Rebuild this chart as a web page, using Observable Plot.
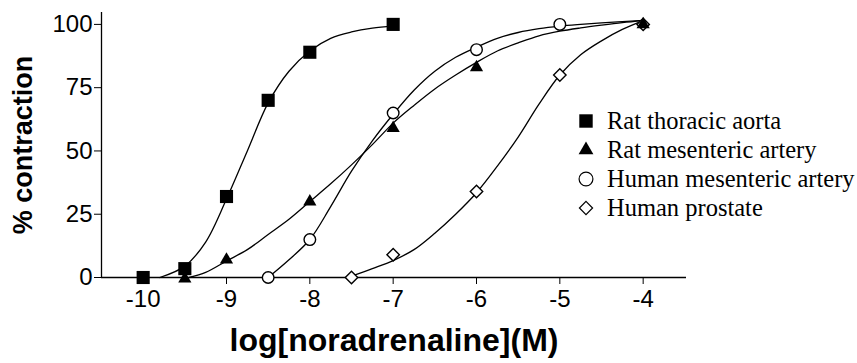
<!DOCTYPE html>
<html>
<head>
<meta charset="utf-8">
<script src="https://cdn.jsdelivr.net/npm/d3@7"></script>
<script src="https://cdn.jsdelivr.net/npm/@observablehq/plot@0.6"></script>
<style>
  html, body { margin: 0; padding: 0; background: #fff; }
  #wrap { position: relative; width: 857px; height: 363px; }
  #legend { position: absolute; left: 576px; top: 106px; font-family: "Liberation Serif", serif; font-size: 24.5px; color: #000; }
  .row { display: flex; align-items: center; height: 29px; white-space: nowrap; }
  .row svg { width: 20px; height: 20px; margin-right: 11px; }
</style>
</head>
<body>
<div id="wrap"><div id="legend"></div></div>
<script>
// Series names
const seriesNames = ["Rat thoracic aorta", "Rat mesenteric artery", "Human mesenteric artery", "Human prostate"];

// Data points (log[M], % contraction)
const aortaX = [-10, -9.5, -9, -8.5, -8, -7];
const aortaY = [0, 3.5, 32, 70, 89, 100];
const ratMesX = [-9.5, -9, -8, -7, -6, -4];
const ratMesY = [-0.5, 7, 30, 59, 83, 100];
const humMesX = [-8.5, -8, -7, -6, -5];
const humMesY = [0, 15, 65, 90, 100];
const prostateX = [-7.5, -7, -6, -5, -4];
const prostateY = [0, 9, 34, 80, 100];

// Fitted curves
const aortaCurveX = [-9.8, -9.5, -9.25, -9, -8.75, -8.5, -8.25, -8, -7.75, -7.5, -7.25, -7];
const aortaCurveY = [0, 4.5, 14, 31, 50, 69, 81.5, 89.5, 94.5, 97, 98.5, 99.3];
const ratMesCurveX = [-9.45, -9.25, -9, -8.75, -8.5, -8.25, -8, -7.75, -7.5, -7.25, -7, -6.75, -6.5, -6.25, -6, -5.75, -5.5, -5.25, -5, -4.75, -4.5, -4.25, -4];
const ratMesCurveY = [0, 2, 6.5, 11, 17, 23, 30, 37, 44.5, 52.5, 61, 68, 74.5, 80, 85, 89.5, 92.7, 95.5, 97.3, 98.6, 99.7, 100.7, 101.5];
const humMesCurveX = [-8.5, -8.25, -8, -7.75, -7.5, -7.25, -7, -6.75, -6.5, -6.25, -6, -5.75, -5.5, -5.25, -5, -4.75, -4.5, -4.25, -4];
const humMesCurveY = [0, 7, 15, 28, 42, 54, 64.5, 74, 81.5, 87, 91, 94.5, 96.8, 98.3, 99.3, 100, 100.6, 101.1, 101.6];
const prostateCurveX = [-7.5, -7.25, -7, -6.75, -6.5, -6.25, -6, -5.75, -5.5, -5.25, -5, -4.75, -4.5, -4.25, -4];
const prostateCurveY = [0.5, 3.5, 6.7, 11, 17.5, 25, 33.5, 44, 55.5, 68.5, 80, 88, 93.5, 98, 101.5];

// Ticks
const xTicks = [-10, -9, -8, -7, -6, -5, -4];
const yTicks = [0, 25, 50, 75, 100];
const xLabel = "log[noradrenaline](M)";
const yLabel = "% contraction";

const zip = (xs, ys) => xs.map((x, i) => ({x, y: ys[i]}));
const curves = [
  zip(aortaCurveX, aortaCurveY),
  zip(ratMesCurveX, ratMesCurveY),
  zip(humMesCurveX, humMesCurveY),
  zip(prostateCurveX, prostateCurveY)
];
const pts = {
  aorta: zip(aortaX, aortaY),
  ratMes: zip(ratMesX, ratMesY),
  humMes: zip(humMesX, humMesY),
  prostate: zip(prostateX, prostateY)
};

const xDomain = [-10.5, -3.48];
const chart = Plot.plot({
  width: 857,
  height: 363,
  marginLeft: 101,
  marginRight: 171,
  marginTop: 12,
  marginBottom: 86,
  style: {fontFamily: "Liberation Sans, Arial, sans-serif", background: "#fff", color: "#000"},
  x: {domain: xDomain},
  y: {domain: [0, 104.7]},
  marks: [
    Plot.axisX({ticks: xTicks, tickSize: 7, tickPadding: 5, tickFormat: d => String(d), fontSize: 24, label: null}),
    Plot.axisY({ticks: yTicks, tickSize: 7, tickPadding: 2, tickFormat: d => String(d), fontSize: 24, label: null}),
    Plot.ruleY([0], {stroke: "#000", strokeWidth: 1.3}),
    Plot.ruleX([xDomain[0]], {stroke: "#000", strokeWidth: 1.3}),
    ...curves.map(c => Plot.line(c, {x: "x", y: "y", curve: "catmull-rom", stroke: "#000", strokeWidth: 1.3})),
    Plot.dot(pts.prostate, {x: "x", y: "y", symbol: "diamond2", r: 5.6, fill: "#fff", stroke: "#000", strokeWidth: 1.4}),
    Plot.dot(pts.humMes, {x: "x", y: "y", symbol: "circle", r: 5.8, fill: "#fff", stroke: "#000", strokeWidth: 1.4}),
    Plot.dot(pts.ratMes, {x: "x", y: "y", symbol: "triangle", r: 4.9, fill: "#000", stroke: "none"}),
    Plot.dot(pts.aorta, {x: "x", y: "y", symbol: "square", r: 7.4, fill: "#000", stroke: "none"}),
    Plot.text([xLabel], {text: d => d, frameAnchor: "bottom", dy: 63, fontSize: 32, fontWeight: "bold", textAnchor: "middle", lineAnchor: "middle"}),
    Plot.text([yLabel], {text: d => d, frameAnchor: "left", dx: -78, rotate: -90, fontSize: 27, fontWeight: "bold", textAnchor: "middle", lineAnchor: "middle"})
  ]
});
document.getElementById("wrap").prepend(chart);

// Legend
const legendSymbols = [
  {sym: d3.symbolSquare, size: 180, fill: "#000", stroke: "none"},
  {sym: d3.symbolTriangle, size: 95, fill: "#000", stroke: "none"},
  {sym: d3.symbolCircle, size: 150, fill: "#fff", stroke: "#000"},
  {sym: d3.symbolDiamond2, size: 110, fill: "#fff", stroke: "#000"}
];
const legend = d3.select("#legend");
seriesNames.forEach((name, i) => {
  const row = legend.append("div").attr("class", "row");
  const s = row.append("svg").attr("viewBox", "-10 -10 20 20");
  const L = legendSymbols[i];
  s.append("path").attr("d", d3.symbol(L.sym, L.size)()).attr("fill", L.fill).attr("stroke", L.stroke).attr("stroke-width", 1.2);
  row.append("span").text(name);
});
</script>
</body>
</html>
